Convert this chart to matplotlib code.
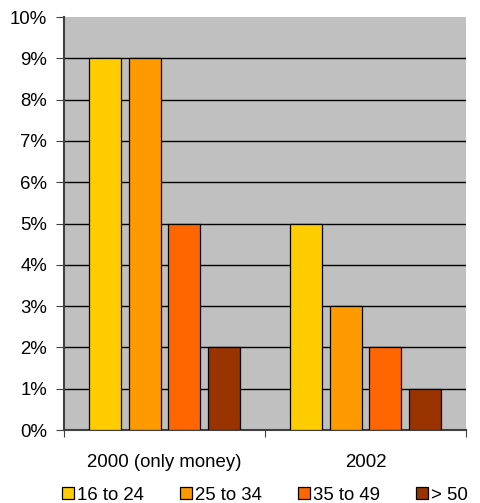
"""Grouped bar chart of percentages by age group."""

import matplotlib.pyplot as plt
import numpy as np

plt.rcParams["font.family"] = ["Liberation Sans", "DejaVu Sans"]

categories = ["2000 (only money)", "2002"]
age_groups = ["16 to 24", "25 to 34", "35 to 49", "> 50"]
values = {
    "16 to 24": [9, 5],
    "25 to 34": [9, 3],
    "35 to 49": [5, 2],
    "> 50": [2, 1],
}
colors = ["#FFCC00", "#FF9900", "#FF6600", "#993300"]
yticks = list(range(0, 11))

fs = 13.4
fig = plt.figure(figsize=(4.8, 5.03), dpi=100)
ax = fig.add_axes([0.1333, 0.145, 0.8375, 0.821])
ax.set_facecolor("#C0C0C0")

x = np.arange(len(categories))
step = 0.1965
width = 0.159
for i, (group, color) in enumerate(zip(age_groups, colors)):
    offset = (i - 1.5) * step
    ax.bar(x + offset, values[group], width, color=color, edgecolor="black",
           linewidth=0.9, label=group, zorder=3)

ax.set_ylim(0, 10)
ax.set_xlim(-0.5, 1.5)
ax.set_yticks(yticks)
ax.set_yticklabels([f"{v}%" for v in yticks], fontsize=fs)
# gridlines everywhere but the top edge
for v in yticks[1:-1]:
    ax.axhline(v, color="black", linewidth=1, zorder=1)

ax.set_xticks([-0.5, 0.5, 1.5])
ax.set_xticklabels([])
ax.set_xticks(x, minor=True)
ax.set_xticklabels(categories, minor=True, fontsize=fs)
ax.tick_params(axis="x", which="minor", length=0, pad=17)
ax.tick_params(axis="x", which="major", length=5, color="#404040", direction="out")
ax.tick_params(axis="y", length=6, color="#404040", pad=6)

for side in ["top", "right"]:
    ax.spines[side].set_visible(False)
ax.spines["left"].set_color("#404040")
ax.spines["bottom"].set_color("#404040")
ax.spines["left"].set_linewidth(1.5)
ax.spines["bottom"].set_linewidth(1.5)

ax.legend(loc="center", bbox_to_anchor=(0.5, -0.158), ncol=4, frameon=False,
          fontsize=fs, handlelength=0.65, handleheight=0.65, handletextpad=0.15,
          columnspacing=1.95, borderaxespad=0)

fig.savefig("out.png", dpi=100)
